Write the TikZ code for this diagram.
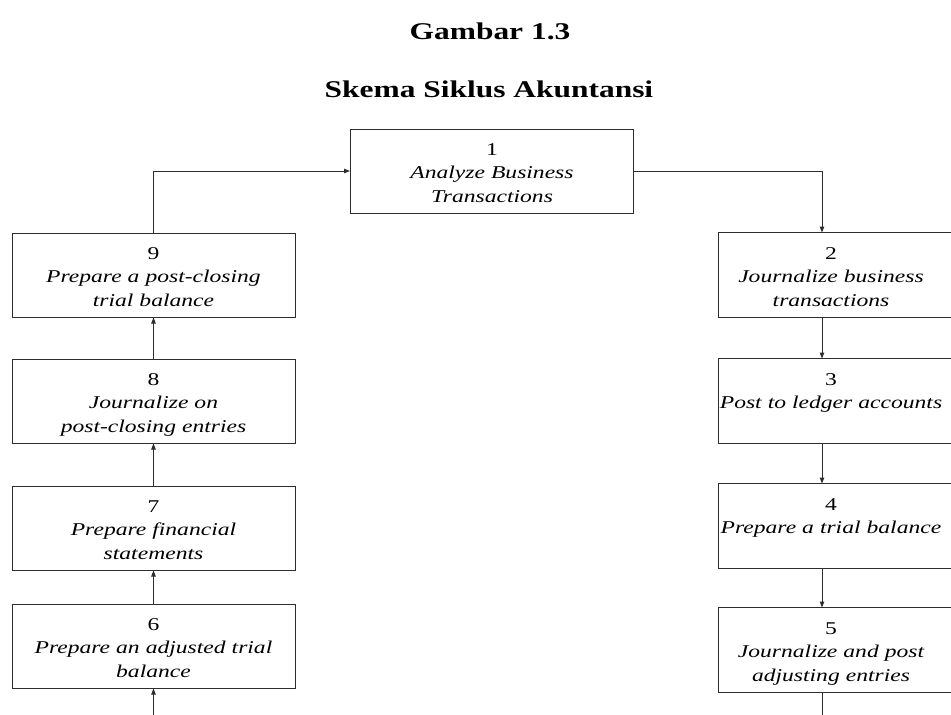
\documentclass[tikz,border=0pt]{standalone}
\usepackage{fontspec}
\setmainfont{Liberation Serif}[FakeStretch=1.31]
\usetikzlibrary{arrows.meta,positioning}
\definecolor{linecolor}{RGB}{45,45,45}

\begin{document}
\begin{tikzpicture}[x=1pt,y=-1pt,
  >={Triangle[length=6pt,width=4.5pt]},
  stepnode/.style={rectangle,draw=linecolor,line width=1pt,
                   text width=275pt,align=center,inner sep=4pt,
                   text height=22pt,text depth=54pt,
                   font=\fontsize{18}{23.5}\selectfont},
  rightnode/.style={stepnode,draw=none},
  frame/.style={draw=linecolor,line width=1pt},
  flow/.style={->,draw=linecolor,line width=1pt},
  judul/.style={font=\fontsize{24}{28}\selectfont\bfseries,anchor=base}
]
\useasboundingbox (0,0) rectangle (951,715);
\node[judul] (t1) at (490,39) {Gambar 1.3};
\node[judul] (t2) at (489,97) {Skema Siklus Akuntansi};
% top
\node[stepnode] (b1) at (492,171)   {1\\\itshape Analyze Business\\Transactions};
% left column, upwards
\node[stepnode] (b9) at (153.5,275) {9\\\itshape Prepare a post-closing\\trial balance};
\node[stepnode] (b8) at (153.5,401) {8\\\itshape Journalize on\\post-closing entries};
\node[stepnode] (b7) at (153.5,528) {7\\\itshape Prepare financial\\statements};
\node[stepnode] (b6) at (153.5,646) {6\\\itshape Prepare an adjusted trial\\balance};
% right column, downwards (cut off by the page edge)
\node[rightnode] (b2) at (831,275)  {2\\\itshape Journalize business\\transactions};
\node[rightnode] (b3) at (831,401)  {3\\\itshape Post to ledger accounts};
\node[rightnode] (b4) at (831,526)  {4\\\itshape Prepare a trial balance};
\node[rightnode] (b5) at (831,650)  {5\\\itshape Journalize and post\\adjusting entries};
\foreach \n in {b2,b3,b4,b5}
  \draw[frame] ([xshift=-113pt]\n.north) rectangle ([xshift=200pt]\n.south);
\coordinate (masuk)  at (153.5,730);
\coordinate (keluar) at (822,730);
\draw[flow] (b9.north) |- (b1.west);
\draw[flow] (b1.east) -| ([xshift=-9pt]b2.north);
\draw[flow] ([xshift=-9pt]b2.south) -- ([xshift=-9pt]b3.north);
\draw[flow] ([xshift=-9pt]b3.south) -- ([xshift=-9pt]b4.north);
\draw[flow] ([xshift=-9pt]b4.south) -- ([xshift=-9pt]b5.north);
\draw[flow,-] ([xshift=-9pt]b5.south) -- (keluar);
\draw[flow] (masuk) -- (b6);
\draw[flow] (b6) -- (b7);
\draw[flow] (b7) -- (b8);
\draw[flow] (b8) -- (b9);
\end{tikzpicture}
\end{document}
